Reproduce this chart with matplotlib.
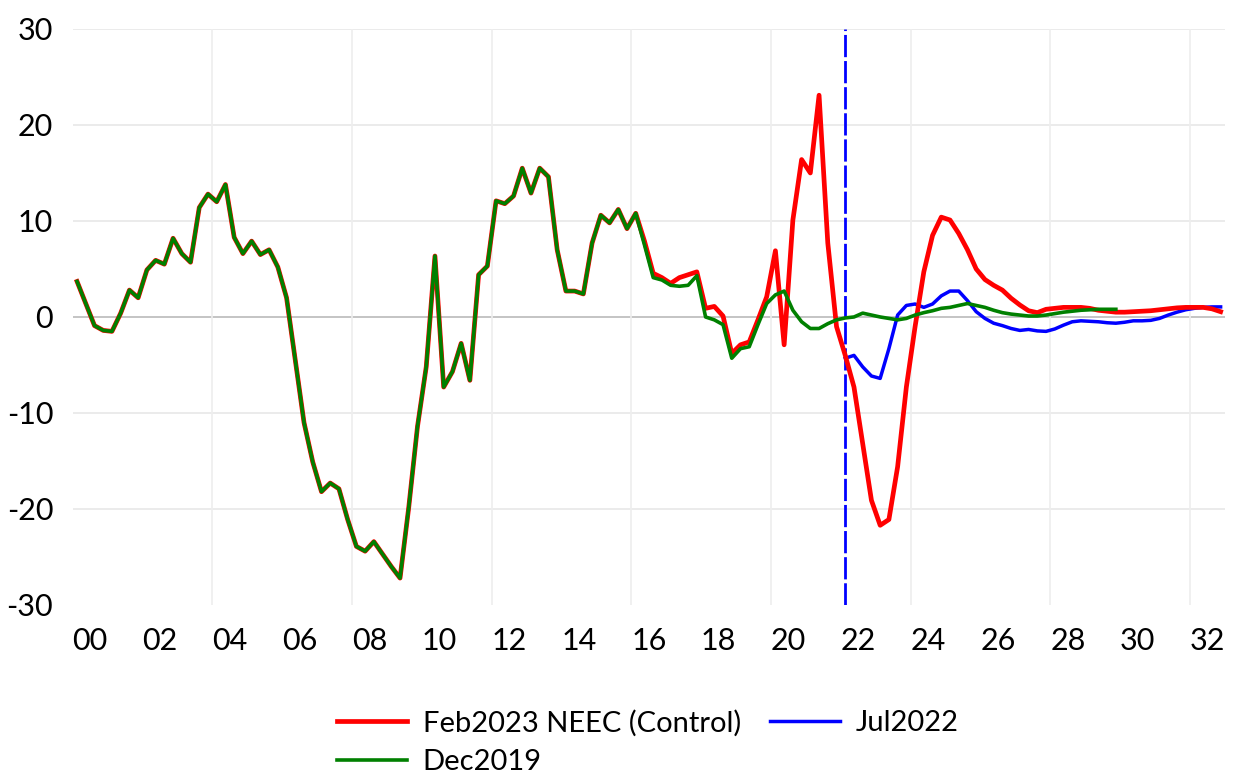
import matplotlib
matplotlib.use('Agg')
import matplotlib.pyplot as plt
import numpy as np

plt.rcParams['font.family'] = ['Lato', 'DejaVu Sans']
plt.rcParams['axes.unicode_minus'] = False

# quarterly series, 2000Q1 onwards
shared = [3.7, 1.4, -0.9, -1.4, -1.5, 0.4, 2.8, 2.0, 4.9, 5.9,
          5.5, 8.2, 6.6, 5.7, 11.4, 12.8, 12.0, 13.8, 8.3, 6.6,
          7.9, 6.5, 7.0, 5.2, 2.0, -4.5, -11.0, -15.1, -18.2, -17.3,
          -17.9, -21.1, -23.9, -24.4, -23.4, -24.7, -26.0, -27.2, -19.8, -11.4,
          -5.2, 6.35, -7.3, -5.7, -2.75, -6.6, 4.4, 5.3, 12.1, 11.8,
          12.6, 15.5, 12.9, 15.5, 14.6, 7.0, 2.7, 2.7, 2.4, 7.7,
          10.6, 9.8, 11.2, 9.2, 10.8]

dec2019_tail = [7.5, 4.1, 3.85, 3.3, 3.2, 3.3, 4.3, 0.0, -0.3, -0.8,
                -4.3, -3.3, -3.1, -0.8, 1.4, 2.3, 2.7, 0.7, -0.5, -1.2,
                -1.2, -0.7, -0.3, -0.1, 0.0, 0.4, 0.2, 0.0, -0.15, -0.3,
                -0.15, 0.2, 0.45, 0.65, 0.9, 1.0, 1.2, 1.4, 1.2, 1.0,
                0.7, 0.45, 0.3, 0.2, 0.1, 0.1, 0.2, 0.35, 0.5, 0.6,
                0.7, 0.75, 0.8, 0.8, 0.8]

feb2023_tail = [7.9, 4.55, 4.1, 3.5, 4.1, 4.4, 4.7, 0.9, 1.1, 0.1,
                -3.8, -2.9, -2.6, -0.3, 2.1, 6.9, -2.9, 10.1, 16.4, 15.0,
                23.1, 7.7, -1.0, -4.0, -7.3, -13.2, -19.1, -21.7, -21.1, -15.6,
                -7.3, -1.0, 4.7, 8.5, 10.4, 10.1, 8.7, 7.0, 5.0, 3.9,
                3.3, 2.8, 1.95, 1.25, 0.65, 0.45, 0.8, 0.9, 1.0, 1.0,
                1.0, 0.9, 0.7, 0.6, 0.5, 0.5, 0.55, 0.6, 0.65, 0.75,
                0.85, 0.95, 1.0, 1.0, 1.0, 0.85, 0.55]

jul2022 = [-4.3, -4.0, -5.2, -6.15, -6.4, -3.3, 0.2, 1.2, 1.35, 1.0,
           1.35, 2.2, 2.7, 2.7, 1.7, 0.55, -0.15, -0.65, -0.9, -1.2,
           -1.4, -1.3, -1.45, -1.5, -1.25, -0.85, -0.5, -0.4, -0.45, -0.5,
           -0.6, -0.65, -0.55, -0.4, -0.4, -0.35, -0.15, 0.2, 0.5, 0.75,
           0.9, 1.0, 1.05, 1.05]

year_labels = ['00', '02', '04', '06', '08', '10', '12', '14', '16',
               '18', '20', '22', '24', '26', '28', '30', '32']
jul2022_start = 88   # 2022Q1

feb2023 = shared + feb2023_tail
dec2019 = shared + dec2019_tail

fig = plt.figure(figsize=(12.34, 7.79), dpi=100)
ax = fig.add_axes([0.0589, 0.2234, 0.9338, 0.7394])

x_red = np.arange(len(feb2023))
x_green = np.arange(len(dec2019))
x_blue = np.arange(jul2022_start, jul2022_start + len(jul2022))

for v in [10, 20, 30, -10, -20]:
    ax.axhline(v, color='#e8e8e8', lw=1.2, zorder=0)
ax.axhline(0, color='#c4c4c4', lw=1.4, zorder=0.5)

ax.axvline(jul2022_start, color='#0000ff', lw=2.0, dashes=(8, 1.4), zorder=1.5)

ax.plot(x_blue, jul2022, color='#0000ff', lw=2.5, label='Jul2022', zorder=2)
ax.plot(x_red, feb2023, color='#ff0000', lw=3.4, label='Feb2023 NEEC (Control)', zorder=3)
ax.plot(x_green, dec2019, color='#008000', lw=2.6, label='Dec2019', zorder=4)

ax.set_xlim(-0.5, len(feb2023) - 0.5)
ax.set_ylim(-30, 30)
ax.set_yticks(np.arange(-30, 31, 10))
ax.set_xticks(1.5 + 8 * np.arange(len(year_labels)))
ax.set_xticklabels(year_labels)
ax.set_xticks(15.5 + 16 * np.arange(8), minor=True)
ax.grid(which='minor', axis='x', color='#eeeeee', lw=1.2, zorder=0)
ax.tick_params(which='both', length=0, labelsize=22)
ax.tick_params(axis='x', pad=16)
ax.tick_params(axis='y', pad=14)
for s in ax.spines.values():
    s.set_visible(False)

handles, labels = ax.get_legend_handles_labels()
order = [1, 2, 0]
fig.legend([handles[i] for i in order], [labels[i] for i in order],
           loc='center', bbox_to_anchor=(0.525, 0.047), ncol=2, frameon=False,
           fontsize=21, handlelength=2.4, handletextpad=0.55,
           columnspacing=1.0, labelspacing=0.45)

fig.savefig('out.png', dpi=100)
